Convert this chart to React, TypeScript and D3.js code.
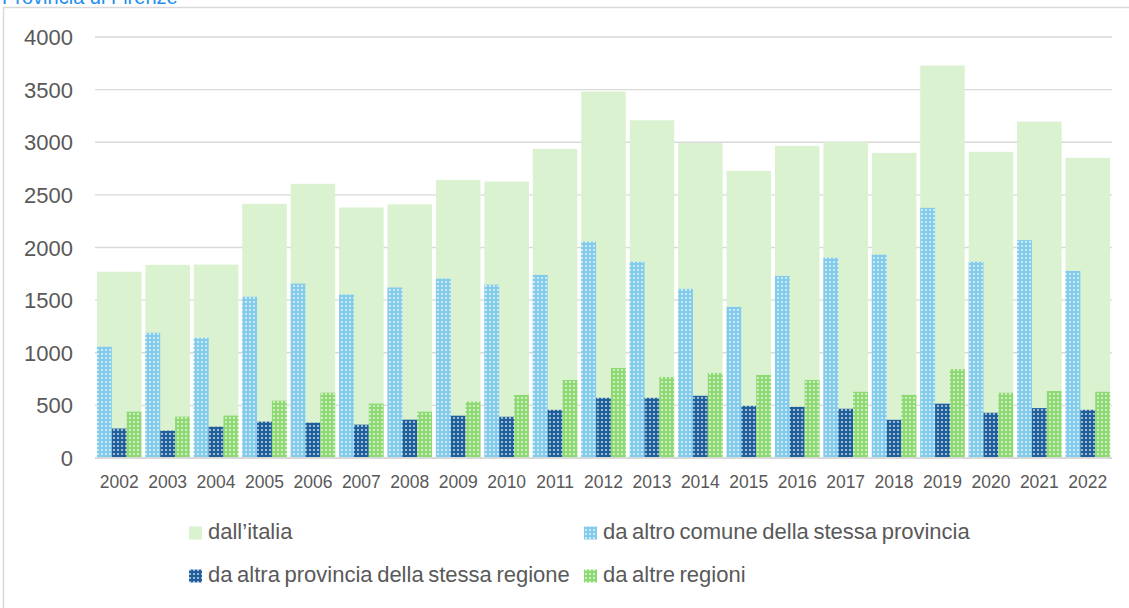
import * as d3 from "d3";

const years = ["2002", "2003", "2004", "2005", "2006", "2007", "2008", "2009", "2010", "2011", "2012",
  "2013", "2014", "2015", "2016", "2017", "2018", "2019", "2020", "2021", "2022"];

// totale dall'italia
const dallItalia = [1770, 1835, 1838, 2415, 2605, 2380, 2410, 2642, 2627, 2937, 3482,
  3209, 2992, 2728, 2966, 3001, 2899, 3729, 2909, 3196, 2852];
const stessaProvincia = [1058, 1190, 1142, 1532, 1657, 1553, 1620, 1705, 1647, 1740, 2055,
  1865, 1607, 1436, 1730, 1903, 1932, 2377, 1865, 2070, 1777];
const stessaRegione = [280, 260, 298, 346, 336, 317, 364, 402, 392, 458, 572,
  572, 591, 496, 486, 468, 363, 516, 430, 474, 458];
const altreRegioni = [440, 393, 403, 545, 621, 517, 440, 536, 599, 741, 855,
  770, 808, 789, 741, 629, 600, 845, 620, 636, 629];

const yTicks = [0, 500, 1000, 1500, 2000, 2500, 3000, 3500, 4000];

const subSeries = [
  { key: "prov", label: "da altro comune della stessa provincia", values: stessaProvincia, color: "#83cbeb", dot: "#e3f3fb" },
  { key: "reg", label: "da altra provincia della stessa regione", values: stessaRegione, color: "#215f9a", dot: "#c8d8ea" },
  { key: "alt", label: "da altre regioni", values: altreRegioni, color: "#8ed973", dot: "#e3f6dc" },
];

const W = 1129;
const H = 608;
const margin = { left: 95, right: 17, top: 37, bottom: 150 };
const font = "'Liberation Sans', Arial, sans-serif";
const grey = "#595959";

export default function App() {
  const x = d3.scaleBand<string>()
    .domain(years)
    .range([margin.left, W - margin.right])
    .paddingInner(0.08)
    .paddingOuter(0.04);

  const x1 = d3.scaleBand<string>()
    .domain(subSeries.map((s) => s.key))
    .range([0, x.bandwidth()]);

  const y = d3.scaleLinear().domain([0, 4000]).range([H - margin.bottom, margin.top]);

  const legendRows = [
    [{ label: "dall\u2019italia", fill: "#daf2d0", x: 189 }, { label: subSeries[0].label, fill: "url(#p-prov)", x: 584 }],
    [{ label: subSeries[1].label, fill: "url(#p-reg)", x: 189 }, { label: subSeries[2].label, fill: "url(#p-alt)", x: 584 }],
  ];
  const legendY = [539, 582];

  return (
    <svg width={W} height={H} style={{ position: "absolute", left: 0, top: 0, fontFamily: font }}>
      <defs>
        {subSeries.map((s) => (
          <pattern key={s.key} id={`p-${s.key}`} width={4} height={4} patternUnits="userSpaceOnUse">
            <rect width={4} height={4} fill={s.color} />
            <rect x={1} y={1} width={2} height={2} fill={s.dot} opacity={0.75} />
          </pattern>
        ))}
      </defs>
      <rect x={0} y={0} width={W} height={H} fill="#fff" />
      <text x={2} y={4} fontSize={20} fill="#1e8ff0">Provincia di Firenze</text>
      <rect x={3.5} y={7.5} width={W + 20} height={H + 20} fill="none" stroke="#d9d9d9" strokeWidth={1.5} />

      <g className="grid">
        {yTicks.map((t) => (
          <g key={t}>
            {t > 0 && (
              <line x1={margin.left} x2={W - margin.right} y1={y(t)} y2={y(t)} stroke="#d9d9d9" strokeWidth={1.3} />
            )}
            <text x={73} y={y(t) + 8} fontSize={22} fill={grey} textAnchor="end">{t}</text>
          </g>
        ))}
      </g>

      <g className="bars-italia">
        {years.map((yr, i) => (
          <rect key={yr} x={x(yr)} y={y(dallItalia[i])} width={x.bandwidth()} height={y(0) - y(dallItalia[i])} fill="#daf2d0" />
        ))}
      </g>

      <g className="bars-sub">
        {years.map((yr, i) =>
          subSeries.map((s) => (
            <rect
              key={yr + s.key}
              x={(x(yr) ?? 0) + (x1(s.key) ?? 0)}
              y={y(s.values[i])}
              width={x1.bandwidth()}
              height={y(0) - y(s.values[i])}
              fill={`url(#p-${s.key})`}
            />
          ))
        )}
      </g>

      <line x1={margin.left} x2={W - margin.right} y1={y(0)} y2={y(0)} stroke="#d9d9d9" strokeWidth={2} />

      <g className="x-axis">
        {years.map((yr) => (
          <text key={yr} x={(x(yr) ?? 0) + x.bandwidth() / 2} y={488} fontSize={17.5} fill={grey} textAnchor="middle">
            {yr}
          </text>
        ))}
      </g>

      <g className="legend">
        {legendRows.map((row, r) =>
          row.map((it) => (
            <g key={it.label}>
              <rect x={it.x} y={legendY[r] - 12.5} width={13} height={13} fill={it.fill} />
              <text x={it.x + 19} y={legendY[r]} fontSize={22} fill={grey} wordSpacing={-1.5}>{it.label}</text>
            </g>
          ))
        )}
      </g>
    </svg>
  );
}
